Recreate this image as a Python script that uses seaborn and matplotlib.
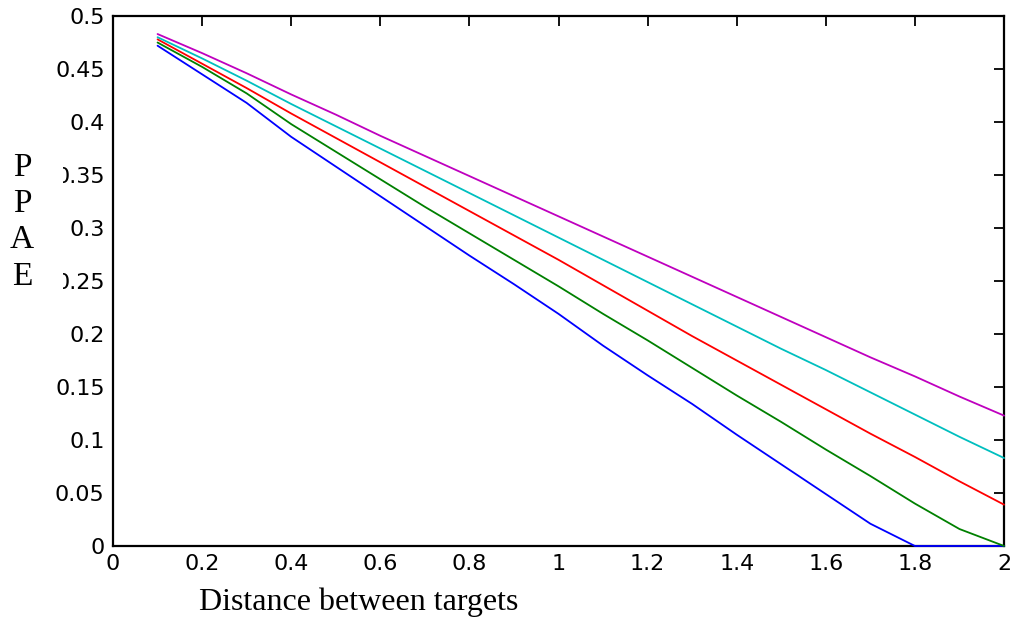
import pandas as pd
import matplotlib
matplotlib.use("Agg")
import matplotlib.pyplot as plt
import seaborn as sns

# distance between targets
distance = [0.1, 0.2, 0.3, 0.4, 0.5, 0.6, 0.7, 0.8, 0.9, 1.0,
            1.1, 1.2, 1.3, 1.4, 1.5, 1.6, 1.7, 1.8, 1.9, 2.0]

# PPAE curves
ppae_blue = [0.472, 0.445, 0.418, 0.386, 0.358, 0.330, 0.302, 0.274, 0.247, 0.219,
             0.189, 0.161, 0.134, 0.105, 0.077, 0.049, 0.021, 0.0, 0.0, 0.0]
ppae_green = [0.475, 0.452, 0.427, 0.398, 0.372, 0.346, 0.320, 0.295, 0.270, 0.245,
              0.219, 0.194, 0.168, 0.142, 0.117, 0.091, 0.066, 0.040, 0.016, 0.0]
ppae_red = [0.478, 0.455, 0.432, 0.408, 0.385, 0.362, 0.339, 0.316, 0.293, 0.270,
            0.246, 0.222, 0.198, 0.175, 0.152, 0.129, 0.106, 0.084, 0.061, 0.039]
ppae_cyan = [0.480, 0.460, 0.439, 0.417, 0.396, 0.375, 0.354, 0.333, 0.312, 0.291,
             0.270, 0.249, 0.228, 0.207, 0.186, 0.166, 0.145, 0.124, 0.103, 0.083]
ppae_magenta = [0.483, 0.465, 0.446, 0.426, 0.407, 0.387, 0.368, 0.349, 0.330, 0.311,
                0.292, 0.273, 0.254, 0.235, 0.216, 0.197, 0.178, 0.160, 0.141, 0.123]

series = {
    "blue": ppae_blue,
    "green": ppae_green,
    "red": ppae_red,
    "cyan": ppae_cyan,
    "magenta": ppae_magenta,
}
colors = {
    "blue": (0, 0, 1),
    "green": (0, 0.5, 0),
    "red": (1, 0, 0),
    "cyan": (0, 0.75, 0.75),
    "magenta": (0.75, 0, 0.75),
}

rows = []
for name, vals in series.items():
    for x, y in zip(distance, vals):
        rows.append({"distance": x, "ppae": y, "curve": name})
df = pd.DataFrame(rows)

sns.set_theme(style="white")
plt.rcParams["font.family"] = ["DejaVu Sans"]

fig = plt.figure(figsize=(10.19, 6.28), dpi=100)
ax = fig.add_axes([0.1109, 0.1306, 0.8744, 0.8439])

sns.lineplot(data=df, x="distance", y="ppae", hue="curve", palette=colors,
             linewidth=1.3, legend=False, ax=ax, clip_on=False, zorder=3)

ax.set_xlim(0, 2)
ax.set_ylim(0, 0.5)
ax.set_xticks([0, 0.2, 0.4, 0.6, 0.8, 1.0, 1.2, 1.4, 1.6, 1.8, 2.0])
ax.set_xticklabels(["0", "0.2", "0.4", "0.6", "0.8", "1", "1.2", "1.4", "1.6", "1.8", "2"])
ax.set_yticks([0, 0.05, 0.1, 0.15, 0.2, 0.25, 0.3, 0.35, 0.4, 0.45, 0.5])
ax.set_yticklabels(["0", "0.05", "0.1", "0.15", "0.2", "0.25", "0.3", "0.35", "0.4", "0.45", "0.5"])

ax.tick_params(axis="both", direction="in", length=7, width=1.3, color="black",
               labelsize=16, labelcolor="black", top=True, right=True)
ax.tick_params(axis="x", pad=6)
ax.tick_params(axis="y", pad=6)
for side in ["left", "right", "top", "bottom"]:
    ax.spines[side].set_visible(True)
    ax.spines[side].set_color("black")
    ax.spines[side].set_linewidth(1.6)

ax.set_xlabel("Distance between targets", family="Liberation Serif", fontsize=23,
              color="black")
ax.xaxis.set_label_coords((359 - 113) / 891, -(602 - 546) / 530)
ax.xaxis.label.set_verticalalignment("center")

ax.set_ylabel("P\nP\nA\nE", family="Liberation Serif", fontsize=24, rotation=0,
              color="black", linespacing=1.25,
              bbox=dict(facecolor="white", edgecolor="none", boxstyle="square,pad=0.88"))
ax.yaxis.set_label_coords((22 - 113) / 891, (546 - 222) / 530)
ax.yaxis.label.set_verticalalignment("center")
ax.yaxis.label.set_horizontalalignment("center")

fig.savefig("out.png", dpi=100, facecolor="white")
plt.close(fig)
